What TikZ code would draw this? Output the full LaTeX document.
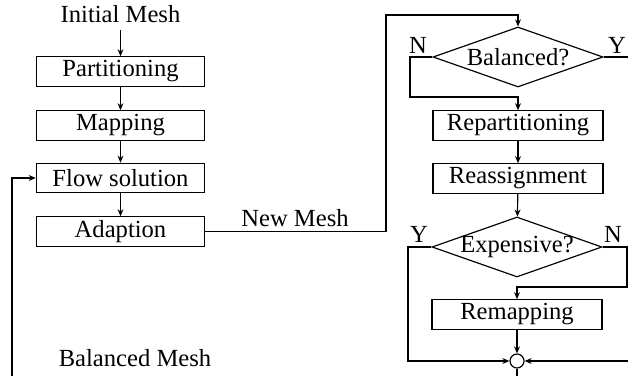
\documentclass[tikz,border=0pt]{standalone}
\usepackage{fontspec}
\setmainfont{Liberation Serif}
\usetikzlibrary{arrows.meta, positioning, shapes.geometric}

\tikzset{
    stagebox/.style={draw, rectangle, line width=1pt, minimum width=5.05cm, minimum height=0.88cm, inner sep=0pt},
    testbox/.style={draw, diamond, line width=1pt, minimum width=5.1cm, minimum height=1.8cm, inner sep=0pt},
    flowline/.style={line width=1pt},
    flowarrow/.style={line width=1pt, -{Stealth[length=6pt, width=5pt]}},
    tag/.style={font=\fontsize{21}{24}\selectfont, inner sep=0pt}
}

\begin{document}
\begin{tikzpicture}[x=0.03cm, y=-0.03cm, font=\fontsize{21}{24}\selectfont]
    \useasboundingbox (0,0) rectangle (628,376);

    % left column
    \node[tag] (initial) at (120.5,14) {Initial Mesh};
    \node[stagebox] (part) at (120.5,71.5) {Partitioning};
    \node[stagebox] (map) at (120.5,125.5) {Mapping};
    \node[stagebox] (flow) at (120.5,178) {Flow solution};
    \node[stagebox] (adapt) at (120.5,231.5) {Adaption};
    \node[tag] (newmesh) at (295,218) {New Mesh};
    \node[tag] (balmesh) at (135,358) {Balanced Mesh};

    % right column
    \node[testbox, label={[tag]center:Balanced?}] (bal) at (518,57) {};
    \node[stagebox, minimum width=5.1cm] (repart) at (518,125.5) {Repartitioning};
    \node[stagebox, minimum width=5.1cm] (reassign) at (518,178.5) {Reassignment};
    \node[testbox, label={[tag]center:Expensive?}] (exp) at (517,247) {};
    \node[stagebox, minimum width=5.1cm] (remap) at (517,314.5) {Remapping};
    \node[draw, circle, line width=1pt, minimum size=0.42cm, inner sep=0pt] (join) at (517,361) {};

    \node[tag] (balN) at (418,45) {N};
    \node[tag] (balY) at (617,45) {Y};
    \node[tag] (expY) at (419,234) {Y};
    \node[tag] (expN) at (613,234) {N};

    \coordinate (feedin) at (12,376);
    \coordinate (feedout) at (517,376);
    \coordinate (rightin) at (628,361);
    \coordinate (rightout) at (628,57);

    \draw[flowarrow] ([yshift=-0.2cm]initial.south) -- (part);
    \draw[flowarrow] (part) -- (map);
    \draw[flowarrow] (map) -- (flow);
    \draw[flowarrow] (flow) -- (adapt);
    \draw[flowarrow] (adapt.east) -| (386,15) -| (bal.north);
    \draw[flowarrow] (bal.west) -| (410,97) -| (repart.north);
    \draw[flowline] (bal.east) -- (rightout);
    \draw[flowarrow] (repart) -- (reassign);
    \draw[flowarrow] (reassign) -- (exp);
    \draw[flowarrow] (exp.east) -| (627,287) -| (remap.north);
    \draw[flowarrow] (exp.west) -| (408,361) -- (join.west);
    \draw[flowarrow] (remap) -- (join);
    \draw[flowarrow] (rightin) -- (join.east);
    \draw[flowline] (join) -- (feedout);
    \draw[flowarrow] (feedin) |- (flow.west);
\end{tikzpicture}
\end{document}
